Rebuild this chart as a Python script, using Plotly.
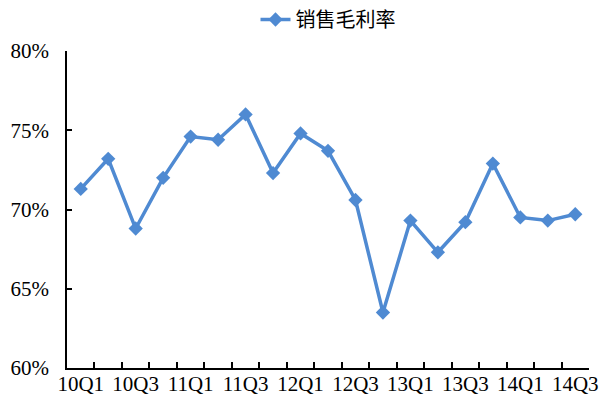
import plotly.graph_objects as go

# Quarterly gross margin, 2010 Q1 – 2014 Q3
quarters = ["10Q1", "10Q2", "10Q3", "10Q4", "11Q1", "11Q2", "11Q3", "11Q4",
            "12Q1", "12Q2", "12Q3", "12Q4", "13Q1", "13Q2", "13Q3", "13Q4",
            "14Q1", "14Q2", "14Q3"]
gross_margin = [71.3, 73.2, 68.8, 72.0, 74.6, 74.4, 76.0, 72.3,
                74.8, 73.7, 70.6, 63.5, 69.3, 67.3, 69.2, 72.9,
                69.5, 69.3, 69.7]
series_name = "销售毛利率"
y_ticks = [60, 65, 70, 75, 80]
y_tick_text = [f"{v}%" for v in y_ticks]

# every other quarter gets a label
tick_text = [q if i % 2 == 0 else "" for i, q in enumerate(quarters)]

blue = "#4F8AD2"
serif = "Liberation Serif, Times New Roman, serif"

fig = go.Figure()
fig.add_trace(go.Scatter(
    x=quarters, y=gross_margin, name=series_name,
    mode="lines+markers",
    line=dict(color=blue, width=3.5),
    marker=dict(symbol="diamond", size=11, color=blue),
))

fig.update_layout(
    width=603, height=400,
    margin=dict(l=67, r=14, t=51, b=32, autoexpand=False),
    paper_bgcolor="white", plot_bgcolor="white",
    font=dict(family=serif, size=21, color="black"),
    showlegend=True,
    legend=dict(
        orientation="h", x=0.5, xanchor="center",
        y=1.0, yanchor="top", yref="container",
        font=dict(family="Noto Sans CJK SC", size=20),
        bgcolor="rgba(0,0,0,0)",
    ),
)

fig.update_xaxes(
    type="category", tickmode="array", tickvals=quarters, ticktext=tick_text,
    tickson="boundaries", ticks="inside", ticklen=6, tickwidth=1.5,
    tickcolor="black", showline=True, linecolor="black", linewidth=1.5,
    showgrid=False, zeroline=False, tickangle=0, automargin=False,
    ticklabelstandoff=-4,
    range=[-0.5, len(quarters) - 0.5],
)
fig.update_yaxes(
    range=[60, 80], tickmode="array", tickvals=y_ticks, ticktext=y_tick_text,
    ticks="inside", ticklen=5, tickwidth=1.5, tickcolor="black",
    showline=True, linecolor="black", linewidth=1.5, automargin=False,
    showgrid=False, zeroline=False, ticklabelstandoff=12,
)

fig.write_html("out.html")
